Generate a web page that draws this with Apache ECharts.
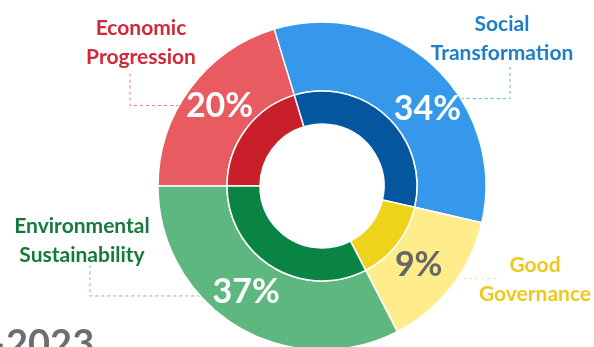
<!DOCTYPE html>
<html>
<head>
<meta charset="utf-8">
<script src="https://cdn.jsdelivr.net/npm/echarts@6/dist/echarts.min.js"></script>
<style>
html,body{margin:0;padding:0;background:#fff;}
#c{width:594px;height:347px;}
</style>
</head>
<body>
<div id="c"></div>
<script>
// ---- data ----
var categories = ['Economic\nProgression', 'Social\nTransformation', 'Good\nGovernance', 'Environmental\nSustainability'];
var shares = [20.3, 33.3, 13.8, 32.6];          // arc sizes as drawn
var percentLabels = ['20%', '34%', '9%', '37%'];  // printed labels
var yearLabel = '\u20132023';

// ---- styles ----
var outerColors = ['#E85B60', '#3598EA', '#FFED8C', '#5DB77F'];
var innerColors = ['#C81F2A', '#04579F', '#EDD319', '#0A8442'];
var nameColors  = ['#D02A38', '#1E7EC6', '#EEC91B', '#137A3C'];
var leaderColors = ['#E8787E', '#62ACEA', '#F6E496', '#72C291'];
var pctColors = ['#ffffff', '#ffffff', '#676767', '#ffffff'];

// ---- layout ----
var CX = 322, CY = 186, R_OUT = 164, R_MID = 95, R_IN = 62;
var pctShift = [[4, -1], [15, 20], [-8, -2], [-7, -7]];
var callout = [
  {ang: 299.4, cornerX: 130, endY: 73,  textX: 141, textBottom: 72},
  {ang: 57.8,  cornerX: 510, endY: 65,  textX: 502, textBottom: 68},
  {ang: 124.4, cornerX: 497, endY: null, textX: 535, textBottom: 309},
  {ang: 227.9, cornerX: 90,  endY: 265, textX: 82,  textBottom: 270}
];
var FONT = 'Lato';

var chart = echarts.init(document.getElementById('c'), null, {renderer: 'canvas'});

var outerData = shares.map(function (v, i) {
  return {
    value: v, name: categories[i],
    itemStyle: {color: outerColors[i]},
    label: {color: pctColors[i]}
  };
});
var innerData = shares.map(function (v, i) {
  return {
    value: v, name: categories[i],
    itemStyle: {color: innerColors[i]},
    label: {color: nameColors[i]},
    labelLine: {lineStyle: {color: leaderColors[i]}}
  };
});

chart.setOption({
  animation: false,
  backgroundColor: '#ffffff',
  title: {
    text: yearLabel,
    left: -21, top: 321,
    textStyle: {fontFamily: FONT, fontWeight: 'bold', fontSize: 38, color: '#6D6E71'}
  },
  series: [
    {
      type: 'pie',
      center: [CX, CY],
      radius: [R_MID, R_OUT],
      startAngle: 180,
      clockwise: true,
      avoidLabelOverlap: false,
      itemStyle: {borderColor: '#ffffff', borderWidth: 1.5},
      label: {
        show: true, position: 'inside',
        fontFamily: FONT, fontWeight: 'bold', fontSize: 34,
        formatter: function (p) { return percentLabels[p.dataIndex]; }
      },
      labelLayout: function (p) {
        var s = pctShift[p.dataIndex];
        return {dx: s[0], dy: s[1]};
      },
      labelLine: {show: false},
      emphasis: {disabled: true},
      data: outerData
    },
    {
      type: 'pie',
      center: [CX, CY],
      radius: [R_IN, R_MID],
      startAngle: 180,
      clockwise: true,
      avoidLabelOverlap: false,
      itemStyle: {borderColor: '#ffffff', borderWidth: 1.5},
      label: {
        show: true, position: 'outside',
        fontFamily: FONT, fontWeight: 'bold', fontSize: 21, lineHeight: 29,
        align: 'center',
        formatter: function (p) { return categories[p.dataIndex]; }
      },
      labelLine: {show: true, lineStyle: {width: 1, type: [3, 3]}},
      labelLayout: function (p) {
        var c = callout[p.dataIndex];
        var a = c.ang * Math.PI / 180;
        var sx = CX + R_OUT * Math.sin(a), sy = CY - R_OUT * Math.cos(a);
        var pts = [[sx, sy], [c.cornerX, sy]];
        if (c.endY !== null) pts.push([c.cornerX, c.endY]);
        else pts.push([c.cornerX, sy]);
        return {
          x: c.textX, y: c.textBottom,
          align: 'center', verticalAlign: 'bottom',
          labelLinePoints: pts
        };
      },
      emphasis: {disabled: true},
      data: innerData
    }
  ]
});
</script>
</body>
</html>
